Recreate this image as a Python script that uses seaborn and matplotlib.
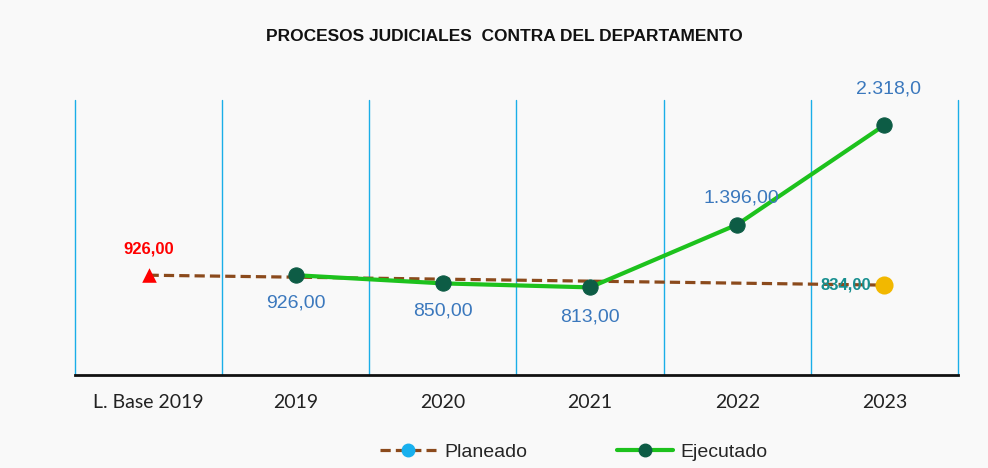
import numpy as np
import pandas as pd
import seaborn as sns
import matplotlib.pyplot as plt
from matplotlib.lines import Line2D

# Chart data
categorias = ["L. Base 2019", "2019", "2020", "2021", "2022", "2023"]
ejecutado_cat = ["2019", "2020", "2021", "2022", "2023"]
ejecutado = [926.00, 850.00, 813.00, 1396.00, 2318.0]
ejecutado_txt = ["926,00", "850,00", "813,00", "1.396,00", "2.318,0"]
planeado_cat = ["L. Base 2019", "2023"]
planeado = [926.00, 834.00]
planeado_txt = ["926,00", "834,00"]

sns.set_theme(style="white")
plt.rcParams["font.family"] = ["Liberation Sans", "DejaVu Sans"]

bg = "#f9f9f9"
fig = plt.figure(figsize=(9.88, 4.68), dpi=100, facecolor=bg)
ax = fig.add_axes([0.0759, 0.1987, 0.8937, 0.5873], facecolor=bg)

pos = {c: i for i, c in enumerate(categorias)}
df_ej = pd.DataFrame({"x": [pos[c] for c in ejecutado_cat], "y": ejecutado})
df_pl = pd.DataFrame({"x": [pos[c] for c in planeado_cat], "y": planeado})

# Planned trend (dashed brown)
sns.lineplot(data=df_pl, x="x", y="y", ax=ax, color="#8b4a1c", lw=2.3,
             linestyle=(0, (3.2, 1.6)), zorder=3)
# Base line marker and final planned marker
ax.scatter(df_pl["x"].iloc[0], df_pl["y"].iloc[0], marker="^", s=110,
           color="#ff0000", zorder=5, linewidths=0)
ax.scatter(df_pl["x"].iloc[-1], df_pl["y"].iloc[-1], marker="o", s=170,
           color="#f2b800", zorder=5, linewidths=0)

# Executed series
sns.lineplot(data=df_ej, x="x", y="y", ax=ax, color="#1dc21d", lw=3,
             marker="o", markersize=11, markerfacecolor="#0d5c45",
             markeredgecolor="#0d5c45", zorder=4)

# Labels of executed values
offsets = [-20, -20, -21, 19, 26]
for x, y, t, o in zip(df_ej["x"], df_ej["y"], ejecutado_txt, offsets):
    ax.annotate(t, (x, y), xytext=(3 if o > 0 else 0, o), textcoords="offset points",
                ha="center", va="center", fontsize=14, color="#3b78bd", zorder=6)

# Labels of planned values
ax.annotate(planeado_txt[0], (df_pl["x"].iloc[0], df_pl["y"].iloc[0]),
            xytext=(0, 19), textcoords="offset points", ha="center", va="center",
            fontsize=12, fontweight="bold", color="#ff0000", zorder=6)
ax.annotate(planeado_txt[1], (df_pl["x"].iloc[-1], df_pl["y"].iloc[-1]),
            xytext=(-28, 0), textcoords="offset points", ha="center", va="center",
            fontsize=12, fontweight="bold", color="#178f8f", zorder=6)

ax.set_xlim(-0.5, len(categorias) - 0.5)
ax.set_ylim(0, 2550)
ax.set_xticks(range(len(categorias)))
ax.set_xticklabels(categorias, family=["Lato", "DejaVu Sans"],
                   fontsize=14, color="#222222")
ax.tick_params(axis="x", length=0, pad=14)
ax.set_yticks([])
ax.set_xlabel("")
ax.set_ylabel("")

# Category separators
for b in np.arange(-0.5, len(categorias), 1.0):
    ax.axvline(b, color="#1aaee8", lw=1, zorder=1, clip_on=False)

for s in ["left", "right", "top"]:
    ax.spines[s].set_visible(False)
ax.spines["bottom"].set_color("#111111")
ax.spines["bottom"].set_linewidth(2)

fig.text(0.511, 0.921, "PROCESOS JUDICIALES  CONTRA DEL DEPARTAMENTO",
         ha="center", va="center", fontsize=12.5, fontweight="bold", color="#111111")

handles = [
    Line2D([], [], color="#8b4a1c", lw=2.3, linestyle=(0, (3.2, 1.6)),
           marker="o", markersize=9, markerfacecolor="#18b0ee",
           markeredgecolor="#18b0ee"),
    Line2D([], [], color="#1dc21d", lw=3, marker="o", markersize=9,
           markerfacecolor="#0d5c45", markeredgecolor="#0d5c45"),
]
fig.legend(handles, ["Planeado", "Ejecutado"], loc="center",
           bbox_to_anchor=(0.581, 0.034), ncol=2, frameon=False, fontsize=14,
           handlelength=2.9, columnspacing=4.6, handletextpad=0.4)

fig.savefig("out.png", dpi=100, facecolor=bg)
